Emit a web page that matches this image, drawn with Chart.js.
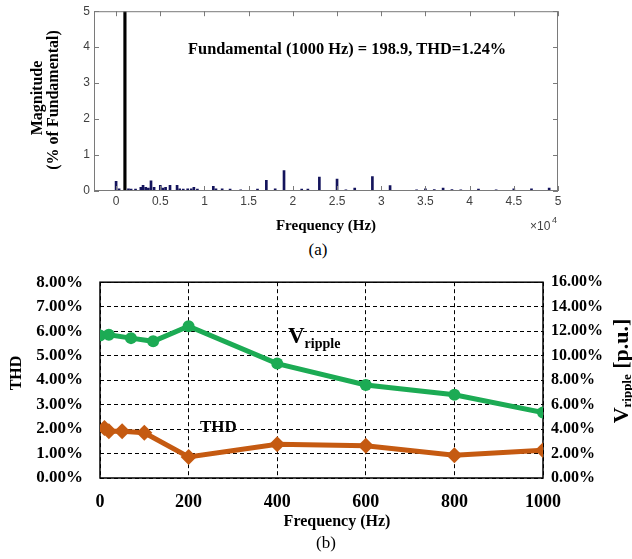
<!DOCTYPE html>
<html>
<head>
<meta charset="utf-8">
<script src="https://cdn.jsdelivr.net/npm/chart.js@4.4.1/dist/chart.umd.min.js"></script>
<style>
  body { margin: 0; background: #fff; }
  #wrap { position: relative; width: 632px; height: 559px; }
  canvas { position: absolute; left: 0; }
  .cap { position: absolute; width: 632px; text-align: center; font: 17px 'Liberation Serif', 'Times New Roman', serif; line-height: 20px; }
</style>
</head>
<body>
<div id="wrap">
  <canvas id="fft" width="632" height="240" style="top:0"></canvas>
  <div class="cap" style="top:240px;left:2px">(a)</div>
  <canvas id="thd" width="632" height="304" style="top:255px"></canvas>
  <div class="cap" style="top:533px;left:10px">(b)</div>
</div>
<script>
// ---- (a) spectrum: frequency in Hz, magnitude in % of fundamental
const fundFreq = [1000];
const fundMag = [100];
const fftFreq = [0, 340, 1400, 1700, 2200, 2800, 3050, 3350, 3650, 3950,
  4300, 5000, 5300, 5600, 6100, 6900, 7200, 7600, 8100, 8500,
  8800, 9200, 11000, 11300, 12000, 12900, 14100, 16000, 17000, 18000,
  19000, 21000, 21700, 23000, 25000, 26000, 27000, 29000, 31000, 34000,
  35000, 36000, 37000, 38000, 39000, 41000, 43000, 45000, 47000, 49000];
const fftMag = [0.27, 0.06, 0.06, 0.05, 0.05, 0.10, 0.16, 0.10, 0.08, 0.28,
  0.10, 0.16, 0.08, 0.10, 0.16, 0.16, 0.06, 0.05, 0.06, 0.06,
  0.10, 0.05, 0.13, 0.06, 0.06, 0.05, 0.03, 0.05, 0.30, 0.06,
  0.57, 0.05, 0.05, 0.39, 0.33, 0.03, 0.08, 0.40, 0.15, 0.03,
  0.06, 0.04, 0.08, 0.04, 0.03, 0.05, 0.03, 0.06, 0.06, 0.08];
const fftXTicks = [0, 5000, 10000, 15000, 20000, 25000, 30000, 35000, 40000, 45000, 50000];
const fftYTicks = [0, 1, 2, 3, 4, 5];

// ---- (b) THD and V ripple vs frequency
const vripFreq = [0, 20, 70, 120, 200, 400, 600, 800, 1000];
const vripple = [11.64, 11.70, 11.43, 11.17, 12.40, 9.35, 7.60, 6.80, 5.35];
const thdFreq = [10, 20, 50, 100, 200, 400, 600, 800, 1000];
const thd = [2.04, 1.91, 1.91, 1.85, 0.86, 1.38, 1.32, 0.93, 1.13];
const freqTicks = [0, 200, 400, 600, 800, 1000];

const SERIF = "'Liberation Serif','Times New Roman',serif";
const SANS = "'Liberation Sans',Arial,sans-serif";

function vtext(ctx, str, x, y, font) {
  ctx.save();
  ctx.translate(x, y);
  ctx.rotate(-Math.PI / 2);
  ctx.font = font;
  ctx.textAlign = 'center';
  ctx.textBaseline = 'middle';
  ctx.fillText(str, 0, 0);
  ctx.restore();
}

// matlab style box with inward ticks + labels
const fftDecor = {
  id: 'fftDecor',
  afterDraw(chart) {
    const { ctx, chartArea: a, scales: { x, y } } = chart;
    ctx.save();
    ctx.strokeStyle = '#7a7a7a';
    ctx.lineWidth = 1;
    ctx.beginPath();
    x.ticks.forEach(t => {
      const px = Math.round(x.getPixelForValue(t.value)) + 0.5;
      ctx.moveTo(px, a.bottom); ctx.lineTo(px, a.bottom - 5);
      ctx.moveTo(px, a.top); ctx.lineTo(px, a.top + 5);
    });
    y.ticks.forEach(t => {
      const py = Math.round(y.getPixelForValue(t.value)) + 0.5;
      ctx.moveTo(a.left, py); ctx.lineTo(a.left + 5, py);
      ctx.moveTo(a.right, py); ctx.lineTo(a.right - 5, py);
    });
    ctx.stroke();
    ctx.strokeRect(a.left + 0.5, a.top + 0.5, a.width - 1, a.height - 1);

    ctx.fillStyle = '#000';
    ctx.font = 'bold 16.4px ' + SERIF;
    ctx.textAlign = 'left';
    ctx.textBaseline = 'middle';
    ctx.fillText('Fundamental (1000 Hz) = 198.9, THD=1.24%', 188, 50);

    ctx.font = 'bold 15px ' + SERIF;
    ctx.textAlign = 'center';
    ctx.fillText('Frequency (Hz)', 326, 226);
    vtext(ctx, 'Magnitude', 38, 98, 'bold 16px ' + SERIF);
    vtext(ctx, '(% of Fundamental)', 54, 100, 'bold 16px ' + SERIF);

    ctx.fillStyle = '#404040';
    ctx.font = '12px ' + SANS;
    ctx.textAlign = 'left';
    ctx.fillText('\u00d710', 530, 227);
    ctx.font = '9px ' + SANS;
    ctx.fillText('4', 552, 221);
    ctx.restore();
  }
};

new Chart(document.getElementById('fft'), {
  type: 'bar',
  data: {
    datasets: [
      { data: fundFreq.map((f, i) => ({ x: f, y: fundMag[i] })), backgroundColor: '#000', barThickness: 2.5, grouped: false },
      { data: fftFreq.map((f, i) => ({ x: f, y: fftMag[i] })), backgroundColor: '#14145c', barThickness: 2, grouped: false }
    ]
  },
  options: {
    responsive: false,
    devicePixelRatio: 1,
    animation: false,
    layout: { padding: { top: 9, right: 74, left: 0, bottom: 0 } },
    plugins: { legend: { display: false }, tooltip: { enabled: false } },
    scales: {
      x: {
        type: 'linear', min: -2500, max: 50000, offset: false,
        grid: { display: false, drawTicks: false },
        border: { display: false },
        afterBuildTicks: s => { s.ticks = fftXTicks.map(v => ({ value: v })); },
        afterFit: s => { s.height = 49; },
        ticks: { padding: 3, color: '#404040', font: { family: SANS, size: 12 }, maxRotation: 0,
          callback: v => String(v / 10000) }
      },
      y: {
        min: 0, max: 5,
        grid: { display: false, drawTicks: false },
        border: { display: false },
        afterBuildTicks: s => { s.ticks = fftYTicks.map(v => ({ value: v })); },
        afterFit: s => { s.width = 94; },
        ticks: { padding: 4, color: '#404040', font: { family: SANS, size: 12 } }
      }
    }
  },
  plugins: [fftDecor]
});

// ---- chart (b)
const thdDecor = {
  id: 'thdDecor',
  beforeDraw(chart) {
    const { ctx } = chart;
    ctx.save();
    ctx.fillStyle = '#000';
    ctx.textAlign = 'left';
    ctx.textBaseline = 'alphabetic';
    ctx.font = 'bold 17px ' + SERIF;
    ctx.fillText('THD', 200, 177);
    ctx.font = 'bold 23px ' + SERIF;
    ctx.fillText('V', 288, 88);
    const w = ctx.measureText('V').width;
    ctx.font = 'bold 14px ' + SERIF;
    ctx.fillText('ripple', 288 + w, 93);
    ctx.restore();
  },
  beforeDatasetsDraw(chart) {
    const { ctx, chartArea: a } = chart;
    ctx.save();
    ctx.strokeStyle = '#000';
    ctx.lineWidth = 1.5;
    ctx.strokeRect(a.left, a.top, a.width, a.height);
    ctx.restore();
  },
  afterDraw(chart) {
    const { ctx } = chart;
    ctx.save();
    ctx.fillStyle = '#000';
    ctx.font = 'bold 16px ' + SERIF;
    ctx.textAlign = 'center';
    ctx.textBaseline = 'middle';
    ctx.fillText('Frequency (Hz)', 337, 267);
    vtext(ctx, 'THD', 17, 118, 'bold 16px ' + SERIF);

    // right title V_ripple [p.u.], rotated
    ctx.translate(622, 116);
    ctx.rotate(-Math.PI / 2);
    ctx.textAlign = 'left';
    ctx.textBaseline = 'middle';
    const big = 'bold 22px ' + SERIF, small = 'bold 13px ' + SERIF;
    ctx.font = big; const wV = ctx.measureText('V').width; const wU = ctx.measureText(' [p.u.]').width;
    ctx.font = small; const wR = ctx.measureText('ripple').width;
    let x0 = -(wV + wR + wU) / 2;
    ctx.font = big; ctx.fillText('V', x0, 0);
    ctx.font = small; ctx.fillText('ripple', x0 + wV, 6);
    ctx.font = big; ctx.fillText(' [p.u.]', x0 + wV + wR, 0);
    ctx.restore();
  }
};

const dashGrid = { color: '#000', lineWidth: 1, drawTicks: false };

new Chart(document.getElementById('thd'), {
  type: 'line',
  data: {
    datasets: [
      {
        label: 'V ripple', yAxisID: 'y2',
        data: vripFreq.map((f, i) => ({ x: f, y: vripple[i] })),
        borderColor: '#1cab54', backgroundColor: '#1cab54', borderWidth: 5,
        pointStyle: 'circle', pointRadius: 6, pointBorderWidth: 0, tension: 0
      },
      {
        label: 'THD', yAxisID: 'y',
        data: thdFreq.map((f, i) => ({ x: f, y: thd[i] })),
        borderColor: '#c55a11', backgroundColor: '#c55a11', borderWidth: 5,
        pointStyle: 'rectRot', pointRadius: 8, pointBorderWidth: 0, tension: 0
      }
    ]
  },
  options: {
    responsive: false,
    devicePixelRatio: 1,
    animation: false,
    layout: { padding: { top: 18, right: 0, left: 0, bottom: 0 } },
    plugins: { legend: { display: false }, tooltip: { enabled: false } },
    scales: {
      x: {
        type: 'linear', min: 0, max: 1000,
        grid: dashGrid,
        border: { display: false, dash: [4, 3] },
        afterBuildTicks: s => { s.ticks = freqTicks.map(v => ({ value: v })); },
        afterFit: s => { s.height = 81; },
        ticks: { padding: 14, color: '#000', maxRotation: 0, font: { family: SERIF, size: 18, weight: 'bold' },
          callback: v => String(v) }
      },
      y: {
        position: 'left', min: 0, max: 8,
        grid: dashGrid,
        border: { display: false, dash: [4, 3] },
        afterFit: s => { s.width = 100; },
        ticks: { stepSize: 1, padding: 17, color: '#000', font: { family: SERIF, size: 17, weight: 'bold' },
          callback: v => v.toFixed(2) + '%' }
      },
      y2: {
        position: 'right', min: 0, max: 16,
        grid: { display: false, drawTicks: false },
        border: { display: false },
        afterFit: s => { s.width = 89; },
        ticks: { stepSize: 2, padding: 8, color: '#000', font: { family: SERIF, size: 16, weight: 'bold' },
          callback: v => v.toFixed(2) + '%' }
      }
    }
  },
  plugins: [thdDecor]
});
</script>
</body>
</html>
